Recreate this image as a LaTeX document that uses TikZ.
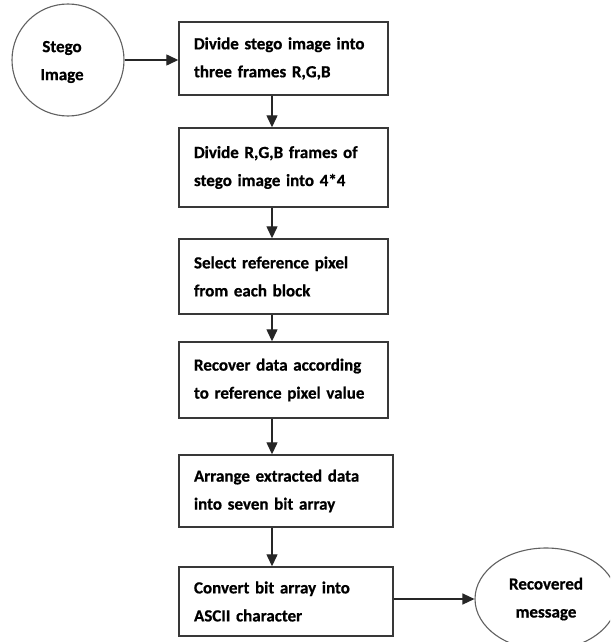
\documentclass[tikz,border=0pt]{standalone}
\usepackage{fontspec}
\setmainfont{Carlito}[WordSpace=0.75,BoldFeatures={FakeBold=0.6}]
\usetikzlibrary{shapes.geometric,arrows.meta}
\newcommand{\diagfont}{\fontsize{17}{28}\selectfont\bfseries}
\begin{document}
\begin{tikzpicture}[x=1pt,y=-1pt,
  every node/.style={font=\diagfont},
  stepbox/.style={draw=black!78,line width=1.4pt,rectangle,inner xsep=15pt,inner ysep=0pt,align=left,anchor=center},
  wbox/.style={stepbox,minimum width=209pt,text width=179pt},
  wwbox/.style={stepbox,minimum width=214pt,text width=184pt},
  roundnode/.style={draw=black!62,line width=1.1pt,inner sep=0pt},
  arr/.style={draw=black!85,line width=1.3pt,-{Triangle[length=12pt,width=11pt]}}
]
\clip (0,0) rectangle (610,642);
\fill[white] (0,0) rectangle (610,642);
% start circle
\node[roundnode,circle,minimum size=112pt] (c1) at (68,60) {};
\node[align=center] (c1t) at (62,62) {Stego\\Image};
% process boxes
\node[wbox,minimum height=73pt] (b1) at (283.5,58.5) {Divide stego image into\\three frames R,G,B};
\node[wbox,minimum height=79pt] (b2) at (283.5,167.5) {Divide R,G,B frames of\\stego image into 4*4};
\node[wbox,minimum height=75pt] (b3) at (283.5,276.5) {Select reference pixel\\from each block};
\node[wbox,minimum height=76pt] (b4) at (283.5,380) {Recover data according\\to reference pixel value};
\node[wwbox,minimum height=72pt] (b5) at (286,491) {Arrange extracted data\\into seven bit array};
\node[wwbox,minimum height=69pt] (b6) at (286,601.5) {Convert bit array into\\ASCII character};
% end ellipse
\node[roundnode,ellipse,minimum width=142pt,minimum height=102pt,align=center] (e) at (546,599) {Recovered\\message};
% connectors
\coordinate (ax) at (272,0);
\draw[arr] (c1.east) -- (c1.east -| b1.west);
\draw[arr] (b1.south -| ax) -- (b2.north -| ax);
\draw[arr] (b2.south -| ax) -- (b3.north -| ax);
\draw[arr] (b3.south -| ax) -- (b4.north -| ax);
\draw[arr] (b4.south -| ax) -- (b5.north -| ax);
\draw[arr] (b5.south -| ax) -- (b6.north -| ax);
\draw[arr] (e.west -| b6.east) -- (e.west);
\end{tikzpicture}
\end{document}
